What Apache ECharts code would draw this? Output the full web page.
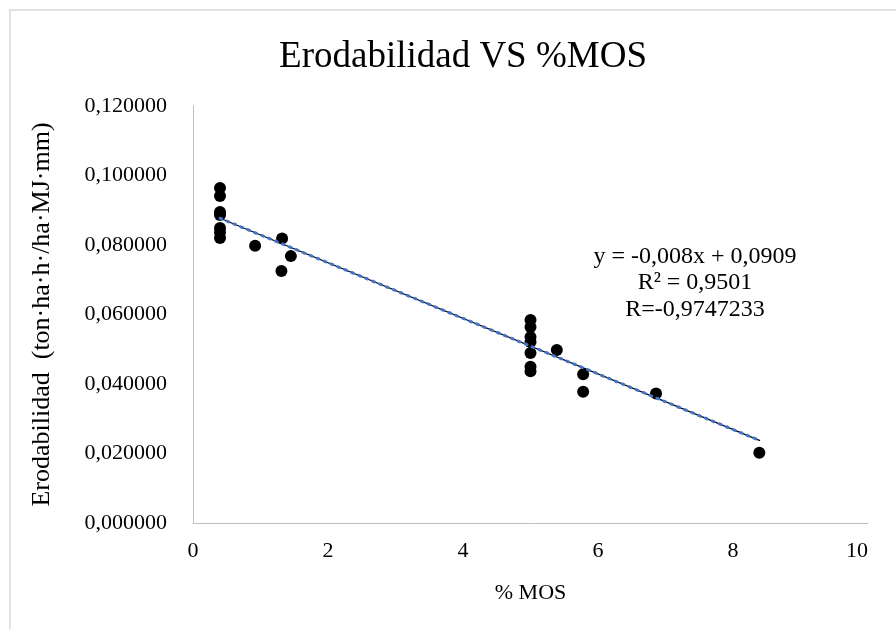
<!DOCTYPE html>
<html>
<head>
<meta charset="utf-8">
<script src="https://cdn.jsdelivr.net/npm/echarts@6/dist/echarts.min.js"></script>
<style>
  html, body { margin: 0; padding: 0; background: #fff; }
  #chart { width: 896px; height: 629px; }
</style>
</head>
<body>
<div id="chart"></div>
<script>
// % MOS and erodability readings
const mos = [0.4, 0.4, 0.4, 0.4, 0.4, 0.4, 0.4,
  0.92, 1.32, 1.45, 1.31,
  5.0, 5.0, 5.0, 5.0, 5.0, 5.0, 5.0,
  5.39, 5.78, 5.78, 6.86, 8.39]
const erod = [0.0964, 0.0941, 0.0895, 0.0886, 0.0849, 0.0837, 0.0820,
  0.0798, 0.0819, 0.0768, 0.0725,
  0.0584, 0.0564, 0.0535, 0.0521, 0.0489, 0.0450, 0.0437,
  0.0498, 0.0428, 0.0378, 0.0373, 0.0202]

// trendline from the fitted equation
const slope = -0.008
const intercept = 0.0909
const trendX = [0.4, 8.4]
const eqLines = ['y = -0,008x + 0,0909', 'R² = 0,9501', 'R=-0,9747233']

const font = 'Liberation Serif, Times New Roman, serif'
const chart = echarts.init(document.getElementById('chart'))

const option = {
  backgroundColor: '#fff',
  animation: false,
  title: {
    text: 'Erodabilidad VS %MOS',
    left: 458,
    top: 34,
    textAlign: 'center',
    textStyle: { fontFamily: font, fontSize: 37, fontWeight: 'normal', color: '#000' }
  },
  grid: { left: 193, right: 28, top: 106, bottom: 106 },
  xAxis: {
    type: 'value',
    min: 0, max: 10, interval: 2,
    name: '% MOS',
    nameLocation: 'middle',
    nameGap: 59,
    nameTextStyle: { fontFamily: font, fontSize: 22, color: '#000' },
    axisLine: { show: true, lineStyle: { color: '#bfbfbf', width: 1 } },
    axisTick: { show: false },
    splitLine: { show: false },
    axisLabel: { fontFamily: font, fontSize: 22, color: '#000', margin: 17, alignMaxLabel: 'right' }
  },
  yAxis: {
    type: 'value',
    min: 0, max: 0.12, interval: 0.02,
    name: 'Erodabilidad  (ton·ha·h·/ha·MJ·mm)',
    nameLocation: 'middle',
    nameGap: 138,
    nameTextStyle: { fontFamily: font, fontSize: 26, color: '#000' },
    axisLine: { show: true, lineStyle: { color: '#bfbfbf', width: 1 } },
    axisTick: { show: false },
    splitLine: { show: false },
    axisLabel: {
      fontFamily: font, fontSize: 22, color: '#000', margin: 26,
      formatter: v => v.toFixed(6).replace('.', ',')
    }
  },
  graphic: [
    {
      type: 'rect',
      shape: { x: 10, y: 10, width: 900, height: 640 },
      style: { fill: 'none', stroke: '#d9d9d9', lineWidth: 1.5 },
      silent: true
    },
    {
      type: 'text',
      x: 695,
      y: 243,
      style: {
        text: eqLines.join('\n'),
        align: 'center',
        fontFamily: font,
        fontSize: 24,
        lineHeight: 26.5,
        fill: '#000'
      }
    }
  ],
  series: [
    {
      type: 'scatter',
      data: mos.map((x, i) => [x, erod[i]]),
      symbol: 'circle',
      symbolSize: 12,
      itemStyle: { color: '#000', opacity: 1 },
      z: 2
    },
    {
      type: 'line',
      data: trendX.map(x => [x, slope * x + intercept]),
      showSymbol: false,
      lineStyle: { color: '#000', width: 1.2 },
      z: 3
    },
    {
      type: 'line',
      data: trendX.map(x => [x, slope * x + intercept]),
      showSymbol: false,
      lineStyle: { color: '#4472c4', width: 3, type: [2, 5.5], cap: 'round' },
      z: 4
    }
  ]
}
chart.setOption(option)
</script>
</body>
</html>
